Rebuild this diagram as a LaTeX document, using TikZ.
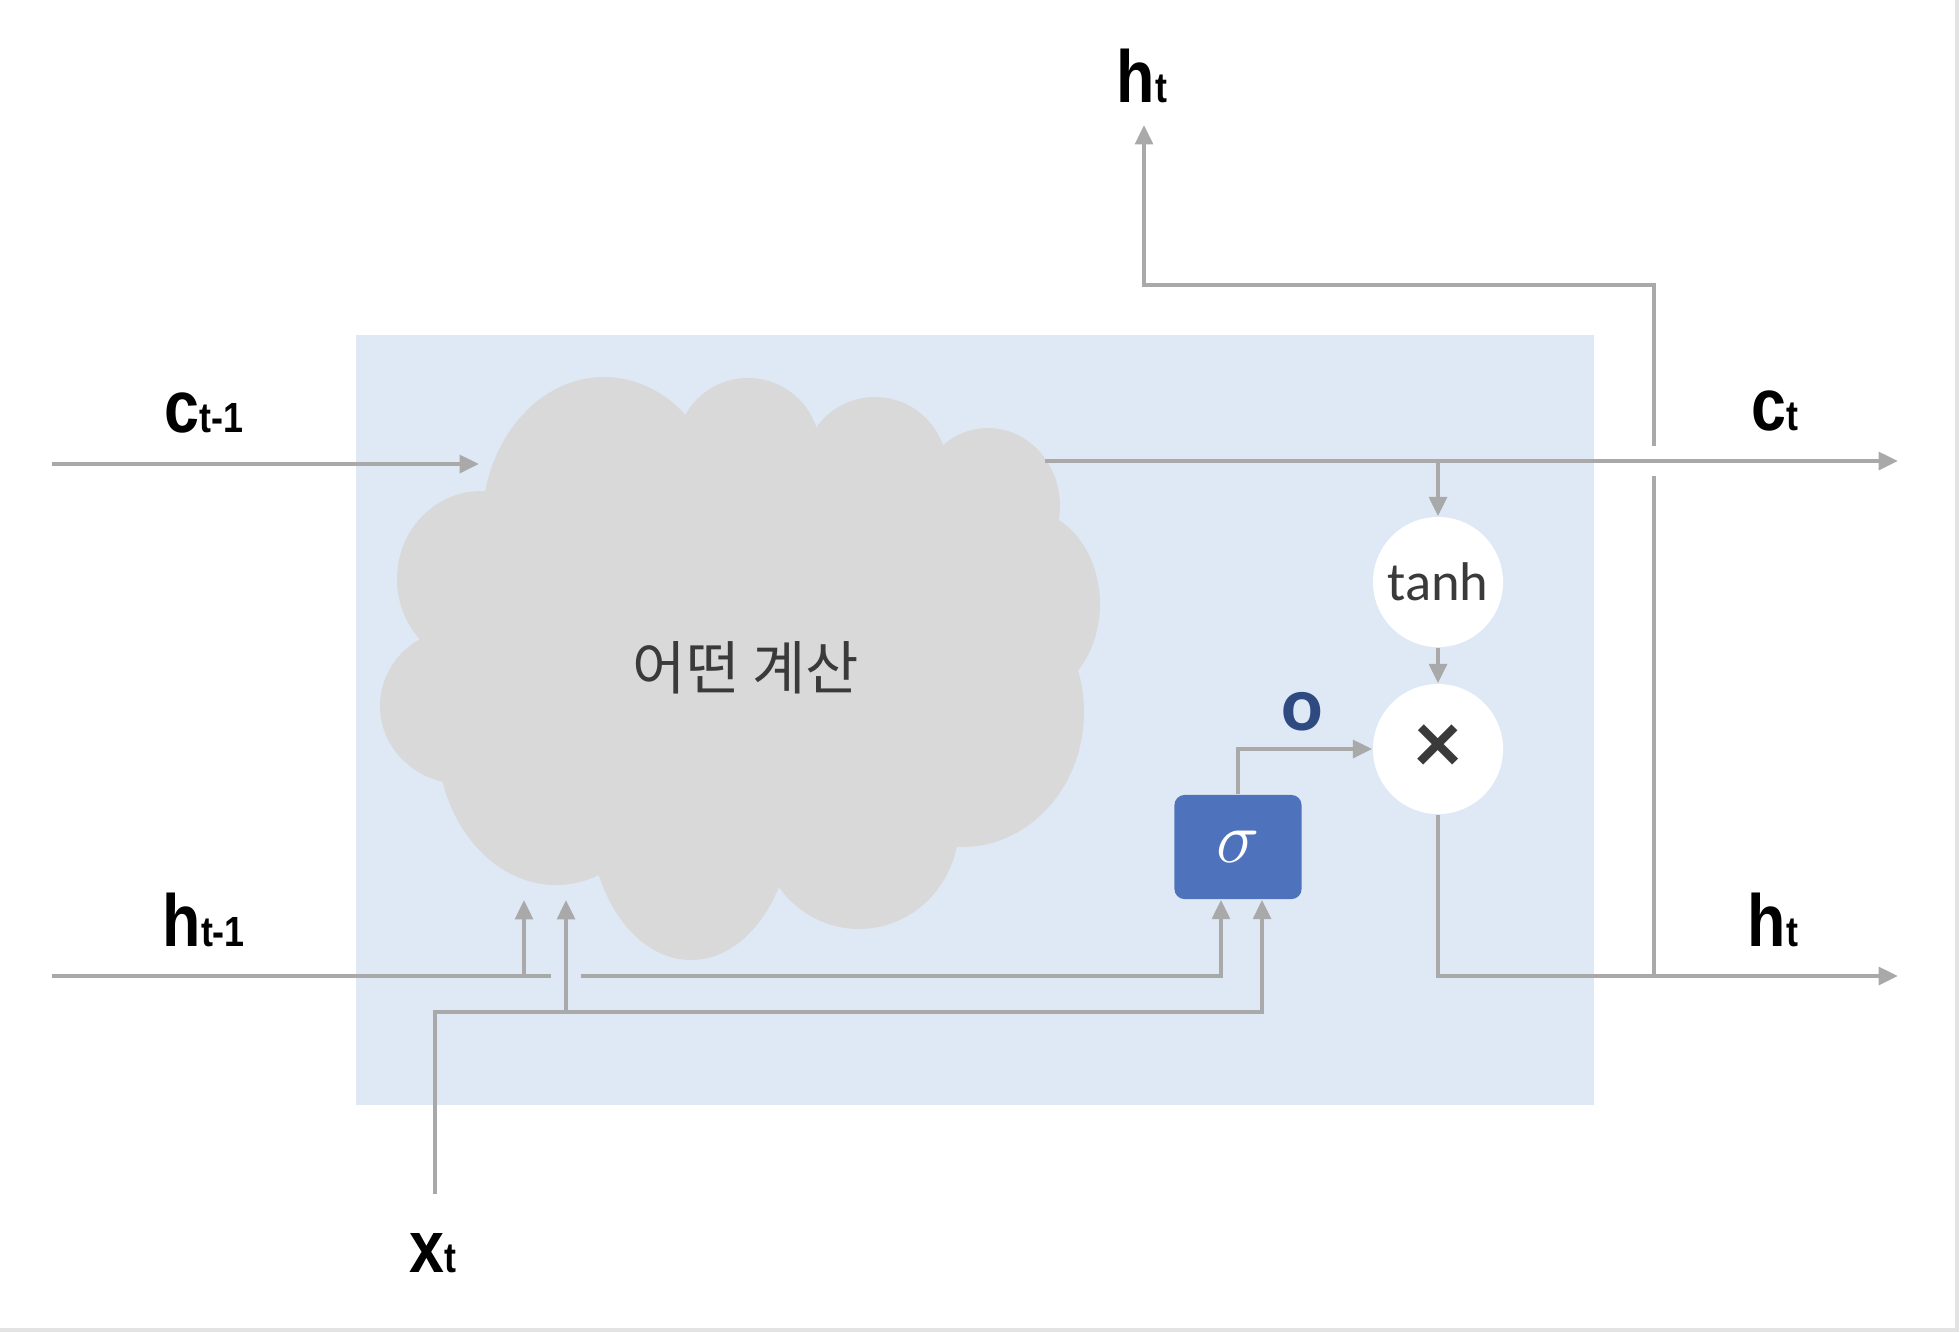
\documentclass[tikz,border=0pt]{standalone}
\usepackage{fontspec}
\usetikzlibrary{arrows.meta,positioning}
\newfontfamily\lblfont[FakeStretch=0.85]{Liberation Sans}
\newfontfamily\calfont{Carlito}
\newfontfamily\krfont{Noto Sans CJK KR}
\definecolor{boxblue}{HTML}{DFE9F5}
\definecolor{cloudgray}{HTML}{D9D9D9}
\definecolor{linegray}{HTML}{A9A9A9}
\definecolor{edgegray}{HTML}{E3E3E3}
\definecolor{sigblue}{HTML}{4F72BD}
\definecolor{onavy}{HTML}{2F4A80}
\definecolor{textdark}{HTML}{3A3A3A}
\newcommand\vlab[2]{\lblfont\bfseries{\fontsize{21}{21}\selectfont #1}{\fontsize{12}{12}\selectfont #2}}

\tikzset{
	wire/.style={draw=linegray, line width=1.15pt},
	arr/.style={wire, -{Triangle[length=5.5pt,width=5pt]}},
	gate/.style={circle, fill=white, minimum size=1.3cm, inner sep=0pt},
	lbl/.style={anchor=base west, inner sep=0pt},
}

\begin{document}
\begin{tikzpicture}[x=0.01cm,y=-0.01cm]
		%%%%% START %%%%%
		\useasboundingbox (0,0) rectangle (1960,1332);
		\draw[edgegray, line width=1pt] (1957,0) -- (1957,1330) -- (0,1330);
		
		% cell
		\fill[boxblue] (356,335) rectangle (1594,1105);
		
		% cloud
		\fill[cloudgray] (746,662) ellipse ({288} and {225});
		\foreach \cx/\cy/\rx/\ry in {604/525/122/148, 748/450/72/72, 875/469/72/72, 988/506/72/78,
			1025/604/75/94, 962/712/122/135, 859/825/100/104, 691/812/102/148,
			556/737/119/148, 462/706/82/78, 481/579/84/88}
			\fill[cloudgray] (\cx,\cy) ellipse ({\rx} and {\ry});
		\node[text=textdark, font=\krfont\fontsize{16.5}{16.5}\selectfont] (calc) at (746,668) {어떤 계산};
		
		% labels
		\node[lbl] (cprev) at (164,432) {\vlab{c}{t-1}};
		\node[lbl] (hprev) at (162,946) {\vlab{h}{t-1}};
		\node[lbl] (xt) at (409,1272) {\vlab{x}{t}};
		\node[lbl] (ct) at (1751,430) {\vlab{c}{t}};
		\node[lbl] (hout) at (1747,946) {\vlab{h}{t}};
		\node[lbl] (htop) at (1116,102) {\vlab{h}{t}};
		
		% gates
		\node[gate, text=textdark, font=\calfont\fontsize{15.5}{15.5}\selectfont] (tanh) at (1438,582) {tanh};
		\node[gate, text=textdark, font=\calfont\bfseries\fontsize{26}{26}\selectfont] (mul) at (1438,749) {×};
		\node[fill=sigblue, rounded corners=0.1cm, minimum width=1.27cm, minimum height=1.04cm, text=white] (sig) at (1238,847) {\fontsize{21}{21}\selectfont$\sigma$};
		\node[text=onavy, font=\calfont\bfseries\fontsize{22}{22}\selectfont] (o) at (1302,712) {o};
		
		% ends and joints
		\coordinate (cin) at (52,464);
		\coordinate (cloudin) at (479,464);
		\coordinate (cloudout) at (1045,461);
		\coordinate (cend) at (1898,461);
		\coordinate (hin) at (52,976);
		\coordinate (hgapl) at (551,976);
		\coordinate (hgapr) at (581,976);
		\coordinate (hend) at (1898,976);
		\coordinate (xin) at (435,1194);
		\coordinate (xbus) at (435,1012);
		\coordinate (hup) at (524,976);
		\coordinate (xup) at (566,1012);
		\coordinate (cloudh) at (524,900);
		\coordinate (cloudx) at (566,900);
		\coordinate (hjoin) at (1654,976);
		\coordinate (hopb) at (1654,476);
		\coordinate (hopt) at (1654,446);
		\coordinate (hturn) at (1654,285);
		\coordinate (htopend) at (1144,125);
		
		% wires
		\draw[arr] (cin) -- (cloudin);
		\draw[arr] (cloudout) -- (cend);
		\draw[arr] (tanh.north |- cloudout) -- (tanh);
		\draw[arr] (tanh) -- (mul);
		\draw[arr] (sig.north) |- (mul.west);
		\draw[arr] (mul.south) |- (hend);
		\draw[wire] (hin) -- (hgapl);
		\draw[arr] (hgapr) -| ([xshift=-0.17cm]sig.south);
		\draw[arr] (hup) -- (cloudh);
		\draw[arr] (xin) -- (xbus) -| ([xshift=0.24cm]sig.south);
		\draw[arr] (xup) -- (cloudx);
		\draw[wire] (hjoin) -- (hopb);
		\draw[arr] (hopt) -- (hturn) -| (htopend);
		
		%%%%% END %%%%%
\end{tikzpicture}
\end{document}
